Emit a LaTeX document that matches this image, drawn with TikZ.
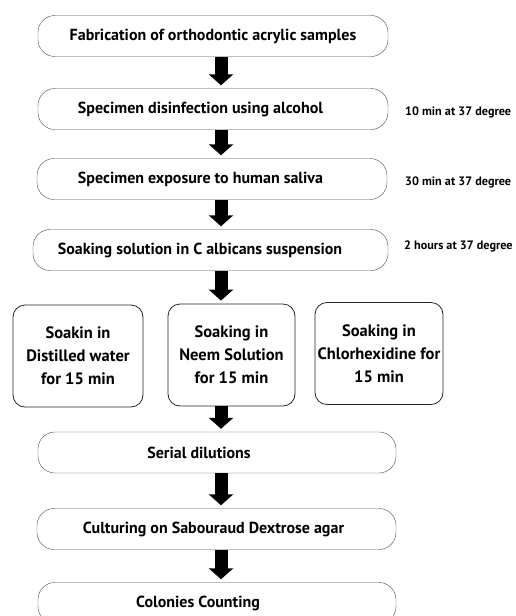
\documentclass[tikz,border=0pt]{standalone}
\usepackage{fontspec}
\setmainfont{PT Sans}
\usetikzlibrary{arrows.meta, positioning}
% pushes a label left of the box centre
\newcommand{\lft}[1]{\hspace*{#1}}

\begin{document}
\begin{tikzpicture}[x=1pt, y=-1pt,
      stage/.style={draw=black!70, rounded corners=17pt, minimum width=350pt, minimum height=41pt,
        inner sep=2pt, font=\fontsize{16}{18}\selectfont\bfseries},
      soak/.style={draw=black!85, thick, rounded corners=12pt, minimum height=102pt, align=center,
        inner sep=2pt, font=\fontsize{16.5}{23}\selectfont\bfseries},
      note/.style={anchor=west, inner sep=0pt, font=\fontsize{12.2}{14}\selectfont\bfseries},
      blk/.style={line width=13pt, -{Triangle[width=24pt, length=11pt]}}]
    \useasboundingbox (0,0) rectangle (515,616);
    \clip (0,0) rectangle (515,616);
    % main steps (top)
    \node[stage] (s1) at (213,36) {Fabrication of orthodontic acrylic samples};
    \node[stage] (s2) at (213,109) {Specimen disinfection using alcohol\lft{25pt}};
    \node[stage] (s3) at (212,179) {Specimen exposure to human saliva\lft{23pt}};
    \node[stage, minimum width=355pt] (s4) at (210.5,250) {Soaking solution in C albicans suspension\lft{21pt}};
    % incubation times
    \node[note] (t2) at (405,112) {10 min at 37 degree};
    \node[note] (t3) at (405,182) {30 min at 37 degree};
    \node[note] (t4) at (404,246) {2 hours at 37 degree};
    % soaking groups
    \node[soak, minimum width=130pt] (w1) at (78,356) {Soakin in\\Distilled water\\for 15 min};
    \node[soak, minimum width=127pt] (w2) at (231.5,355) {Soaking in\\Neem Solution\\for 15 min};
    \node[soak, minimum width=128pt] (w3) at (379,353.5) {Soaking in\\Chlorhexidine for\\15 min};
    % main steps (bottom)
    \node[stage, minimum width=358pt] (s5) at (217,452.5) {Serial dilutions\lft{36pt}};
    \node[stage, minimum width=359pt] (s6) at (216.5,529) {Culturing on Sabouraud Dextrose agar\lft{6pt}};
    \node[stage, minimum width=358pt] (s7) at (217,603) {Colonies Counting\lft{38pt}};
    % block arrows
    \coordinate (ax) at (221,0);
    \foreach \a/\b in {s1/s2, s2/s3, s3/s4, s4/w2, w2/s5, s5/s6, s6/s7}
      \draw[blk] (\a.south -| ax) -- ([yshift=3pt]\b.north -| ax);
  \end{tikzpicture}
\end{document}
